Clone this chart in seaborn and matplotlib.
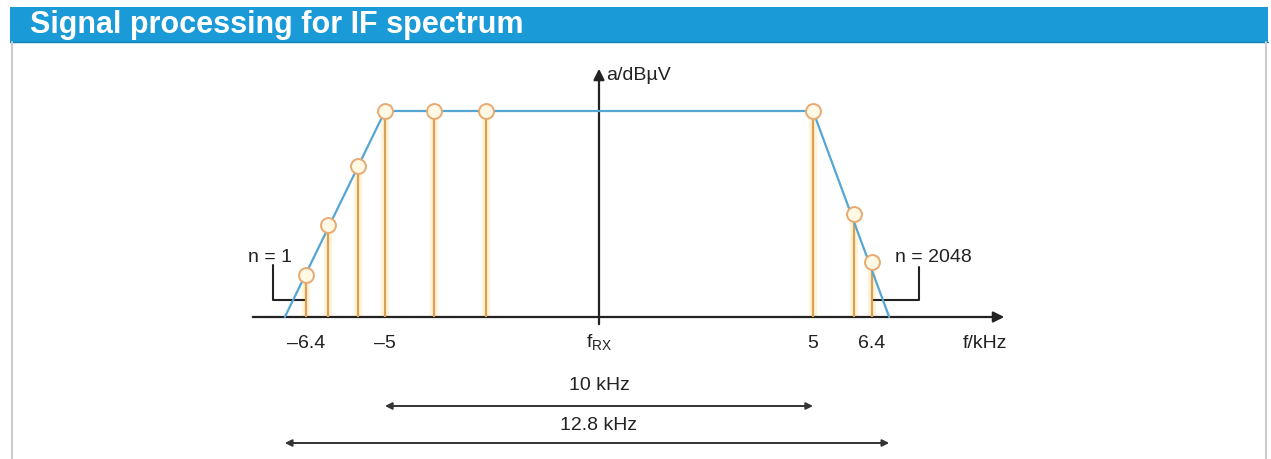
import numpy as np
import pandas as pd
import matplotlib
matplotlib.use('Agg')
import matplotlib.pyplot as plt
import seaborn as sns
from matplotlib.patches import Rectangle
from matplotlib.lines import Line2D

# samples (kHz, relative level)
sample_f = [-6.85, -6.33, -5.63, -5.0, -3.86, -2.64, 5.0, 5.96, 6.38]
sample_a = [0.204, 0.447, 0.733, 1.0, 1.0, 1.0, 1.0, 0.50, 0.267]

# IF filter envelope
env_f = [-7.34, -5.0, 5.0, 6.78]
env_a = [0.0, 1.0, 1.0, 0.0]

tick_pos = [-6.85, -5.0, 0.0, 5.0, 6.38]
tick_lab = ['–6.4', '–5', r'$\mathrm{f}_{\mathrm{RX}}$', '5', '6.4']

span_lo = [-5.0, -7.34]
span_hi = [5.0, 6.78]
span_lab = ['10 kHz', '12.8 kHz']

W, H = 1271, 459
sns.set_theme(style='white')
plt.rcParams['font.family'] = ['Liberation Sans', 'DejaVu Sans']
plt.rcParams['mathtext.fontset'] = 'custom'
plt.rcParams['mathtext.rm'] = 'Liberation Sans'

# pixel -> data helpers (layout only)
def fx(px):
    return (px - 599) / 42.8

def ay(py):
    return (317 - py) / 206.0

fig = plt.figure(figsize=(W / 100, H / 100), dpi=100)
fig.patch.set_facecolor('white')
ax = fig.add_axes([0, 0, 1, 1])
ax.set_xlim(fx(0), fx(W))
ax.set_ylim(ay(H), ay(0))

# header bar + panel frame
fig.add_artist(Rectangle((10 / W, 1 - 42 / H), 1258 / W, 35 / H,
                         transform=fig.transFigure, color='#1a9ad6', lw=0))
fig.add_artist(Line2D([10 / W, 1268 / W], [1 - 41.5 / H] * 2,
                      transform=fig.transFigure, color='#1680b8', lw=1.0))
for xp in (12, 1266):
    fig.add_artist(Line2D([xp / W] * 2, [0, 1 - 42 / H],
                          transform=fig.transFigure, color='#cccccc', lw=1.5))
fig.text(30 / W, 1 - 25 / H, 'Signal processing for IF spectrum',
         color='white', fontsize=22, fontweight='bold', va='center')

# axes arrows
ax.annotate('', xy=(fx(1007), 0), xytext=(fx(250), 0),
            arrowprops=dict(arrowstyle='-|>', color='#222222', lw=1.6, mutation_scale=16))
ax.annotate('', xy=(0, ay(66)), xytext=(0, ay(327)),
            arrowprops=dict(arrowstyle='-|>', color='#222222', lw=1.6, mutation_scale=16))

# sample stems
ax.vlines(sample_f, 0, sample_a, color='#fff3d8', lw=6, zorder=2)
ax.vlines(sample_f, 0, sample_a, color='#dca054', lw=1.6, zorder=3)

# envelope
env = pd.DataFrame({'f': env_f, 'a': env_a})
sns.lineplot(data=env, x='f', y='a', ax=ax, color='#55a6d4', lw=1.6,
             sort=False, zorder=4)

# sample markers
smp = pd.DataFrame({'f': sample_f, 'a': sample_a})
sns.scatterplot(data=smp, x='f', y='a', ax=ax, s=115, marker='o',
                facecolor='#fff8e4', edgecolor='#e8aa70', linewidth=1.4, zorder=5)
ax.axis('off')

# tick labels
for p, t in zip(tick_pos, tick_lab):
    ax.text(p, ay(343), t, ha='center', va='center', fontsize=14, color='#222222')
ax.text(fx(985), ay(343), 'f/kHz', ha='center', va='center', fontsize=14, color='#222222')
ax.text(fx(606), ay(75), 'a/dBµV', ha='left', va='center', fontsize=14, color='#222222')

# n labels with brackets
ax.plot([fx(273), fx(273), sample_f[0]], [ay(265), ay(300), ay(300)], color='#222222', lw=1.5)
ax.text(fx(270), ay(257), 'n = 1', ha='center', va='center', fontsize=14, color='#222222')
ax.plot([sample_f[-1], fx(919), fx(919)], [ay(300), ay(300), ay(267)], color='#222222', lw=1.5)
ax.text(fx(895), ay(257), 'n = 2048', ha='left', va='center', fontsize=14, color='#222222')

# bandwidth spans
for lo, hi, lab, yp, yl in zip(span_lo, span_hi, span_lab, [406, 443], [386, 426]):
    ax.annotate('', xy=(lo, ay(yp)), xytext=(hi, ay(yp)),
                arrowprops=dict(arrowstyle='<|-|>', color='#333333', lw=1.4,
                                mutation_scale=10, shrinkA=0, shrinkB=0))
    ax.text(0, ay(yl), lab, ha='center', va='center', fontsize=14, color='#222222')

fig.savefig('out.png', dpi=100, facecolor='white')
